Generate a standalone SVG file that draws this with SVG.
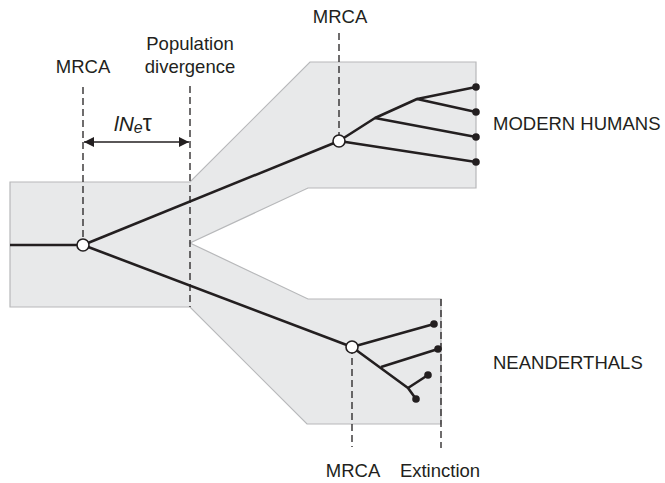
<svg xmlns="http://www.w3.org/2000/svg" width="665" height="483" viewBox="0 0 665 483">
<style>
  text { font-family: "Liberation Sans", Arial, sans-serif; font-size: 18.5px; fill: #231f20; }
  .mid { text-anchor: middle; }
  .region { fill: #e8e9ea; stroke: #b7b8ba; stroke-width: 1.2; }
  .dash { stroke: #231f20; stroke-width: 1.3; stroke-dasharray: 7 4; fill: none; }
  .branch { stroke: #231f20; stroke-width: 2.6; fill: none; stroke-linejoin: round; }
  .mrca { fill: #ffffff; stroke: #231f20; stroke-width: 1.6; }
  .tip { fill: #231f20; }
</style>
<defs>
  <marker id="ah" viewBox="0 0 10 10" refX="10" refY="5" markerWidth="10" markerHeight="10" markerUnits="userSpaceOnUse" orient="auto-start-reverse">
    <path d="M0,0 L10,5 L0,10 Z" fill="#231f20"/>
  </marker>
</defs>

<g id="population-shape">
  <path class="region" d="M10,182 L190,182 L310,62 L476,62 L476,188 L308,188 L190,243 L308,299 L441,299 L441,424 L307,424 L190,307 L10,307 Z"/>
</g>

<g id="connectors">
  <line class="dash" x1="83" y1="87" x2="83" y2="245"/>
  <line class="dash" x1="190" y1="86" x2="190" y2="307"/>
  <line class="dash" x1="339" y1="33" x2="339" y2="141"/>
  <line class="dash" x1="352" y1="347" x2="352" y2="447"/>
  <line class="dash" x1="441" y1="299" x2="441" y2="448"/>
  <line x1="84" y1="142" x2="189" y2="142" stroke="#231f20" stroke-width="1.6" marker-start="url(#ah)" marker-end="url(#ah)"/>
  <path class="branch" d="M10,245 L83,245"/>
  <path class="branch" d="M83,245 L339,141"/>
  <path class="branch" d="M83,245 L352,347"/>
  <path class="branch" d="M339,141 L375,118 L417,99 L476,87"/>
  <path class="branch" d="M417,99 L476,112"/>
  <path class="branch" d="M375,118 L476,137"/>
  <path class="branch" d="M339,141 L476,162"/>
  <path class="branch" d="M352,347 L434,324"/>
  <path class="branch" d="M352,347 L408,388 L416,399"/>
  <path class="branch" d="M381,367 L438,349"/>
  <path class="branch" d="M408,388 L428,375"/>
</g>

<g id="tips">
  <circle class="tip" cx="476" cy="87" r="3.8"/>
  <circle class="tip" cx="476" cy="112" r="3.8"/>
  <circle class="tip" cx="476" cy="137" r="3.8"/>
  <circle class="tip" cx="476" cy="162" r="3.8"/>
  <circle class="tip" cx="434" cy="324" r="3.8"/>
  <circle class="tip" cx="438" cy="349" r="3.8"/>
  <circle class="tip" cx="428" cy="375" r="3.8"/>
  <circle class="tip" cx="416" cy="399" r="3.8"/>
</g>

<g id="node-mrca-root">
  <circle class="mrca" cx="83" cy="245" r="6"/>
  <text class="mid" x="83" y="72.5">MRCA</text>
</g>
<g id="node-mrca-modern">
  <circle class="mrca" cx="339" cy="141" r="6"/>
  <text class="mid" x="340" y="23">MRCA</text>
</g>
<g id="node-mrca-neanderthal">
  <circle class="mrca" cx="352" cy="347" r="6"/>
  <text class="mid" x="353" y="477">MRCA</text>
</g>
<g id="label-divergence">
  <text class="mid" x="190" y="50">Population</text>
  <text class="mid" x="190" y="72.5">divergence</text>
</g>
<g id="label-extinction">
  <text class="mid" x="440" y="477">Extinction</text>
</g>
<g id="label-modern">
  <text x="493" y="130">MODERN HUMANS</text>
</g>
<g id="label-neanderthals">
  <text x="493" y="369">NEANDERTHALS</text>
</g>
<g id="label-time">
  <text x="114" y="131" style="font-size:21px"><tspan font-style="italic">lN</tspan><tspan font-style="italic" style="font-size:16px" dy="2">e</tspan><tspan style="font-size:23px" dy="-2">τ</tspan></text>
</g>
</svg>
